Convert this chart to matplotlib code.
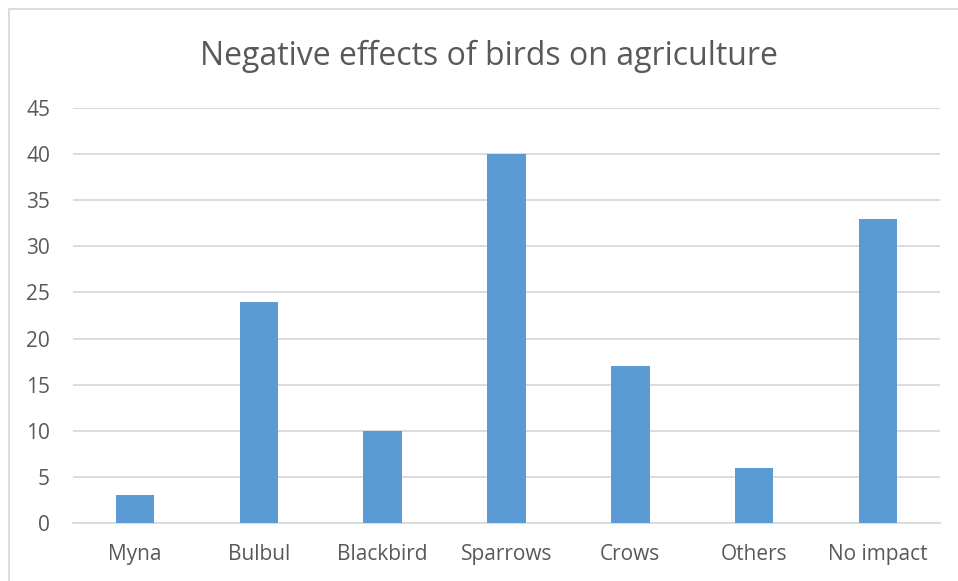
import matplotlib.pyplot as plt
from matplotlib.patches import Rectangle

categories = ['Myna', 'Bulbul', 'Blackbird', 'Sparrows', 'Crows', 'Others', 'No impact']
values = [3, 24, 10, 40, 17, 6, 33]
y_ticks = list(range(0, 46, 5))

text_color = '#595959'
grid_color = '#d9d9d9'
bar_color = '#5b9bd5'

plt.rcParams['font.family'] = ['Open Sans', 'DejaVu Sans']

fig = plt.figure(figsize=(9.58, 5.81), dpi=100)
ax = fig.add_axes([73 / 958, 1 - 523 / 581, 867 / 958, 415 / 581])

# chart area outline
fig.patches.append(Rectangle((8.5 / 958, -0.1), 1.2, 1.1 - 9 / 581,
                             transform=fig.transFigure, fill=False,
                             edgecolor='#d9d9d9', linewidth=1.3))

x = range(len(categories))
ax.bar(x, values, width=0.31, color=bar_color, zorder=3)

ax.set_xlim(-0.5, len(categories) - 0.5)
ax.set_ylim(0, 45)
ax.set_yticks(y_ticks)
ax.set_xticks(list(x))
ax.set_xticklabels(categories)
ax.tick_params(axis='both', length=0, colors=text_color, labelsize=15)
ax.tick_params(axis='y', pad=16.5)
ax.tick_params(axis='x', pad=15)
ax.yaxis.grid(True, color=grid_color, linewidth=1.3, zorder=0)
for side in ['top', 'right', 'left']:
    ax.spines[side].set_visible(False)
ax.spines['bottom'].set_color(grid_color)
ax.spines['bottom'].set_linewidth(1.3)

fig.text(489 / 958, 1 - 65 / 581, 'Negative effects of birds on agriculture',
         ha='center', va='baseline', fontsize=23, color=text_color)

plt.savefig('out.png', dpi=100)
